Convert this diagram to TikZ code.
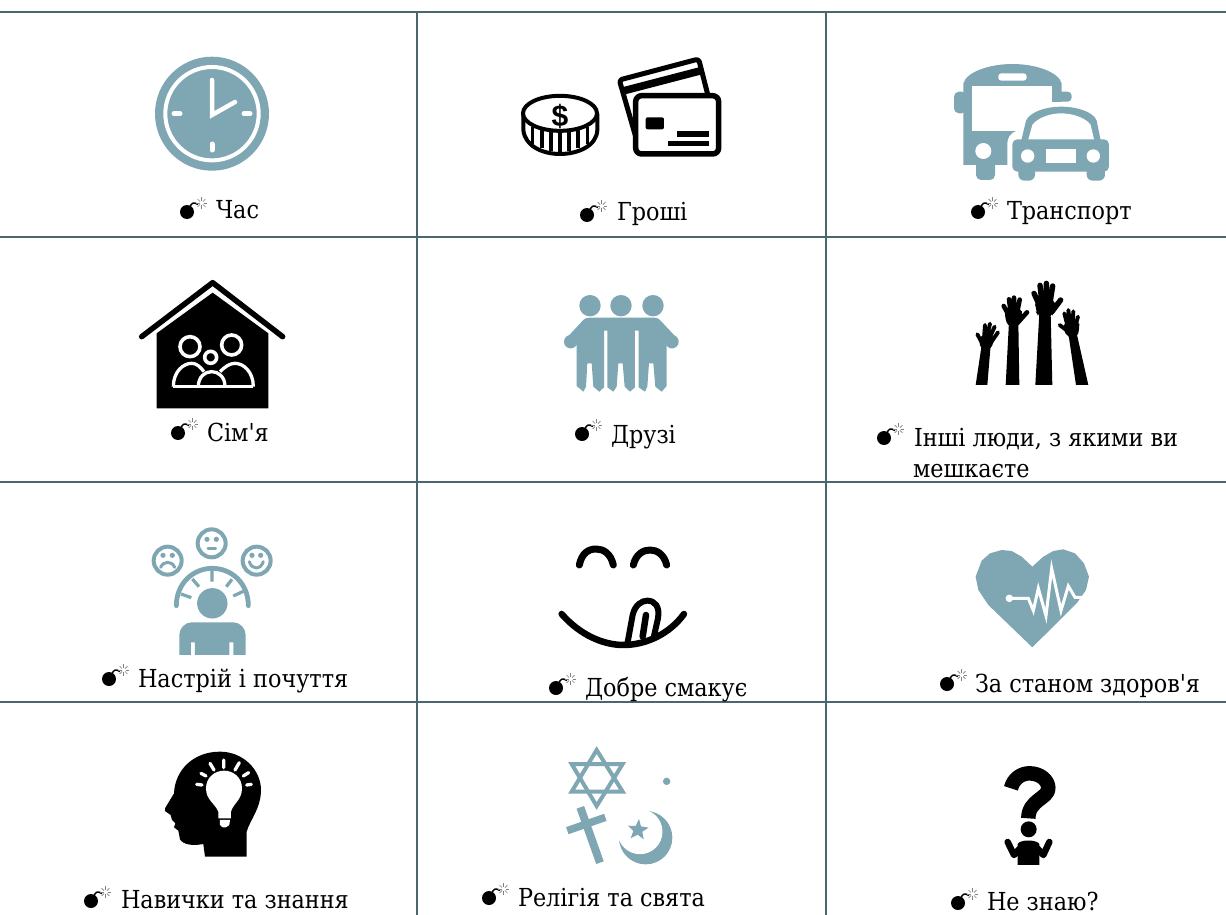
\documentclass[tikz,border=0pt]{standalone}
\usepackage{fontspec}
\setmainfont{DejaVu Serif Condensed}
\newfontfamily\labfont{DejaVu Serif Condensed}
\newfontfamily\dollarfont{Liberation Sans}[BoldFont={Liberation Sans Bold}]
\definecolor{teal}{HTML}{7FA6B3}
\definecolor{gridc}{HTML}{4A666E}
\tikzset{
  zc/.style n args={2}{shift={(#1,#2)},x=0.3333pt,y=-0.3333pt},
  lab/.style={anchor=base west,inner sep=0pt,outer sep=0pt,font=\labfont\fontsize{24.8}{26}\selectfont},
  gridline/.style={draw=gridc,line width=2pt},
}
\newcommand{\bomb}[2]{%
  \begin{scope}[shift={(#1,#2)}]
    \fill[black] (0,0) circle (7pt);
    \draw[black,line width=1.5pt] (3,-5) .. controls (4,-8) and (6,-11) .. (11,-7.5);
    \foreach \a in {0,45,...,315}{\draw[black!50,line width=.7pt] (14.5,-9)++(\a:2pt) -- ++(\a:3.6pt);}
  \end{scope}}
\begin{document}
\begin{tikzpicture}[x=1pt,y=-1pt,line join=round]
\useasboundingbox (0,0) rectangle (1226,915);
\fill[white] (0,0) rectangle (1226,915);
% grid
\draw[gridline] (0,12) -- (1226,12);
\draw[gridline] (0,237) -- (1226,237);
\draw[gridline] (0,482) -- (1226,482);
\draw[gridline] (0,702) -- (1226,702);
\draw[gridline] (417,12) -- (417,915);
\draw[gridline] (826,12) -- (826,915);
% clock
\fill[teal] (212,113.7) circle (57pt);
\draw[white,line width=4pt] (212,113.7) circle (46.7pt);
\draw[white,line width=4.5pt,line cap=round,line join=miter] (212,80) -- (212,115) -- (235,102);
\draw[white,line width=5pt,line cap=round] (174,113.7) -- (180,113.7);
\draw[white,line width=5pt,line cap=round] (244,113.7) -- (250,113.7);
\draw[white,line width=5pt,line cap=round] (212,144) -- (212,150);
% coin
\begin{scope}[zc={500}{40}]
\filldraw[fill=white,draw=black,line width=4pt] (70,222) -- (70,270) .. controls (75,320) and (130,342) .. (180,342) .. controls (230,342) and (290,320) .. (292,270) -- (292,222) -- cycle;
\foreach \xa/\ya/\yb in {98/262/312,126/270/325,153/274/332,180/276/336,207/274/332,234/270/325,262/262/312}{\draw[black,line width=3.6pt] (\xa,\ya) -- (\xa,\yb);}
\filldraw[fill=white,draw=black,line width=4pt] (180,220) ellipse (37pt and 17.5pt);
\node[inner sep=0pt,font=\dollarfont\bfseries\fontsize{30}{31}\selectfont] (dollar) at (180,228) {\$};
% cards
\filldraw[fill=white,draw=black,line width=5pt,rounded corners=3pt] (358,120) -- (596,57) -- (630,190) -- (410,300) -- cycle;
\fill[black] (366,142) -- (604,80) -- (610,102) -- (372,164) -- cycle;
\filldraw[fill=white,draw=black,line width=5.5pt,rounded corners=6pt] (407,167) rectangle (656,342);
\fill[black,rounded corners=2pt] (437,232) rectangle (492,268);
\fill[black] (530,272) rectangle (628,290);
\fill[black] (503,302) rectangle (628,317);
\end{scope}
% bus + car
\begin{scope}[zc={930}{50}]
\fill[teal,rounded corners=5pt] (72,125) rectangle (110,190);
\fill[teal,rounded corners=4pt] (380,125) rectangle (425,155);
\fill[teal] (100,345) -- (100,100) .. controls (110,65) and (180,42) .. (247,42) .. controls (315,42) and (385,65) .. (395,100) -- (395,200) -- (395,345) -- cycle;
\fill[teal,rounded corners=5pt] (138,330) rectangle (195,390);
\fill[white] (127,107) rectangle (365,242);
\fill[white] (365,155) rectangle (430,260);
\fill[white,rounded corners=3pt] (205,70) rectangle (290,92);
\fill[white] (160,303) circle (8pt);
% halo
\fill[white] (262,242) .. controls (240,250) and (232,262) .. (232,285) -- (232,400) -- (560,400) -- (560,160) -- (270,160) -- cycle;
% car
\fill[teal,rounded corners=6pt] (265,340) rectangle (315,392);
\fill[teal,rounded corners=6pt] (470,340) rectangle (525,392);
\fill[teal,rounded corners=5pt] (247,365) rectangle (537,268);
\fill[teal] (272,280) -- (288,212) .. controls (300,185) and (350,170) .. (392,170) .. controls (440,170) and (490,185) .. (500,212) -- (514,280) -- cycle;
\fill[white] (295,268) -- (307,225) .. controls (320,205) and (360,190) .. (392,190) .. controls (430,190) and (470,205) .. (482,225) -- (492,268) -- cycle;
\fill[white] (293,318) circle (6.7pt);
\fill[white] (490,318) circle (6.7pt);
\fill[white] (347,297) rectangle (437,340);
\end{scope}
% house
\begin{scope}[zc={130}{270}]
\draw[black,line width=5.5pt,line cap=round,line join=round] (35,200) -- (248,38) -- (458,200);
\fill[black] (80,190) -- (248,68) -- (415,190) -- (415,415) -- (80,415) -- cycle;
\draw[white,line width=3.6pt] (180,230) circle (10pt);
\draw[white,line width=3.6pt] (305,225) circle (10pt);
\draw[white,line width=3.6pt] (242,262) circle (6pt);
\draw[white,line width=3.3pt] (130,350) -- (370,350);
\draw[white,line width=3.3pt] (130,350) .. controls (130,305) and (160,280) .. (185,280) .. controls (200,280) and (210,290) .. (222,305);
\draw[white,line width=3.3pt] (370,350) .. controls (370,305) and (340,280) .. (315,280) .. controls (300,280) and (285,290) .. (270,305);
\draw[white,line width=3.3pt] (205,350) .. controls (205,320) and (225,305) .. (245,305) .. controls (265,305) and (285,320) .. (285,350);
\end{scope}
% friends
\begin{scope}[zc={550}{280}]
\fill[teal] (120,77) circle (10.7pt);
\fill[teal] (213,77) circle (10.7pt);
\fill[teal] (309,77) circle (10.7pt);
\fill[teal] (62,185) circle (6.7pt);
\fill[teal] (366,185) circle (6.7pt);
\fill[teal] (80,195) -- (80,318) -- (100,335) -- (108,320) -- (112,250) -- (125,250) -- (130,320) -- (148,335) -- (162,322) -- (162,152) -- (172,152) -- (172,322) -- (190,335) -- (200,320) -- (205,250) -- (218,250) -- (224,320) -- (240,335) -- (255,322) -- (255,152) -- (266,152) -- (266,322) -- (285,335) -- (292,320) -- (297,250) -- (310,250) -- (316,320) -- (335,335) -- (350,318) -- (350,195) -- (366,205) -- (384,178) -- (330,120) .. controls (325,115) and (320,113) .. (312,113) -- (120,113) .. controls (110,113) and (105,115) .. (100,120) -- (46,178) -- (62,205) -- cycle;
\end{scope}
% hands
\begin{scope}[zc={960}{270},line cap=round]
\fill[black] (226,345) -- (277,345) -- (272,130) -- (238,130) -- cycle;
\fill[black,rounded corners=8pt] (228,85) -- (286,85) -- (288,118) -- (272,145) -- (238,145) -- (224,118) -- cycle;
\draw[black,line width=5.4pt] (238,105) -- (222,70) (246,100) -- (240,46) (259,100) -- (259,40) (270,100) -- (278,48) (276,125) -- (302,90);
\fill[black] (137,345) -- (178,345) -- (175,155) -- (147,155) -- cycle;
\fill[black,rounded corners=6pt] (137,112) -- (183,112) -- (188,140) -- (175,174) -- (147,174) -- (133,140) -- cycle;
\draw[black,line width=4.6pt] (146,135) -- (131,108) (152,125) -- (147,88) (162,125) -- (162,83) (172,125) -- (179,89) (176,155) -- (201,127);
\fill[black] (47,345) -- (82,345) -- (92,225) -- (65,225) -- cycle;
\fill[black,rounded corners=5pt] (60,195) -- (100,195) -- (102,215) -- (90,242) -- (66,242) -- (56,215) -- cycle;
\draw[black,line width=3.9pt] (64,215) -- (52,193) (72,205) -- (75,165) (80,205) -- (90,161) (88,205) -- (104,170) (88,225) -- (114,187);
\fill[black] (348,345) -- (385,345) -- (350,190) -- (325,190) -- cycle;
\fill[black,rounded corners=5pt] (315,150) -- (358,150) -- (358,175) -- (352,204) -- (325,204) -- (310,180) -- cycle;
\draw[black,line width=3.9pt] (325,185) -- (299,165) (322,165) -- (313,130) (330,160) -- (325,120) (338,160) -- (340,124) (347,165) -- (354,140);
\end{scope}
% mood
\begin{scope}[zc={130}{520},line cap=round]
\draw[teal,line width=4pt] (113,122) circle (14pt);
\draw[teal,line width=4pt] (245,70) circle (14pt);
\draw[teal,line width=4pt] (380,122) circle (14pt);
\fill[teal] (99,106) circle (2.6pt) (127,106) circle (2.6pt) (231,58) circle (2.6pt) (259,58) circle (2.6pt) (366,106) circle (2.6pt) (392,106) circle (2.6pt);
\draw[teal,line width=3pt] (92,142) .. controls (100,122) and (126,122) .. (134,142);
\draw[teal,line width=3pt] (234,86) -- (257,86);
\draw[teal,line width=3pt] (358,125) .. controls (365,150) and (392,150) .. (400,125);
\draw[teal,line width=4.8pt] (139,257) .. controls (139,190) and (190,145) .. (247,145) .. controls (305,145) and (355,190) .. (355,257);
\draw[teal,line width=3.2pt,line cap=butt] (153,222) -- (184,233) (187,177) -- (207,200) (246,150) -- (246,185) (306,178) -- (289,200) (340,214) -- (310,228);
\fill[teal] (247,250) circle (15.2pt);
\fill[teal] (148,405) -- (148,345) .. controls (148,325) and (165,307) .. (185,307) -- (310,307) .. controls (330,307) and (347,325) .. (347,345) -- (347,405) -- (310,405) -- (310,367) -- (298,367) -- (298,405) -- (195,405) -- (195,367) -- (183,367) -- (183,405) -- cycle;
\end{scope}
% tongue face
\begin{scope}[zc={540}{530},line cap=round]
\draw[black,line width=7pt] (118,105) .. controls (125,70) and (145,57) .. (168,57) .. controls (190,57) and (212,70) .. (220,105);
\draw[black,line width=7pt] (280,105) .. controls (288,72) and (310,60) .. (330,60) .. controls (350,60) and (372,72) .. (380,105);
\draw[black,line width=6.5pt] (65,252) .. controls (120,315) and (190,345) .. (250,345) .. controls (320,345) and (390,310) .. (432,252);
\draw[black,line width=6pt] (262,342) -- (278,255) .. controls (285,225) and (305,212) .. (322,212) .. controls (345,212) and (360,230) .. (354,265) -- (342,318);
\draw[black,line width=6.5pt] (308,320) -- (318,255);
\end{scope}
% heart
\begin{scope}[zc={960}{540}]
\fill[teal] (217,322) -- (85,195) -- (55,150) -- (47,110) -- (65,62) -- (90,40) -- (125,30) -- (155,33) -- (185,50) -- (217,80) -- (250,50) -- (280,33) -- (310,28) -- (345,40) -- (372,70) -- (387,110) -- (378,150) -- (350,190) -- cycle;
\draw[white,line width=3pt,line join=miter] (148,175) -- (205,175) -- (220,212) -- (235,145) -- (258,228) -- (275,85) -- (303,212) -- (325,138) -- (345,172) -- (375,172);
\fill[white] (148,175) circle (3.8pt);
\end{scope}
% head
\begin{scope}[zc={150}{740}]
\fill[black] (165,350) -- (160,312) .. controls (130,318) and (100,315) .. (90,298) -- (85,272) -- (72,262) -- (76,250) -- (66,240) -- (62,225) -- (45,213) -- (45,205) -- (72,160) .. controls (75,90) and (130,35) .. (210,35) .. controls (280,35) and (333,90) .. (333,150) .. controls (333,205) and (300,240) .. (290,275) -- (290,350) -- cycle;
\fill[white] (205,215) .. controls (195,190) and (168,180) .. (168,145) .. controls (168,112) and (195,92) .. (222,92) .. controls (250,92) and (276,112) .. (276,145) .. controls (276,180) and (250,190) .. (243,215) -- (243,235) -- (205,235) -- cycle;
\fill[white] (210,240) -- (240,240) -- (238,255) -- (228,262) -- (218,262) -- (210,255) -- cycle;
\draw[white,line width=3.3pt,line cap=round] (221,60) -- (221,83) (180,70) -- (192,90) (268,68) -- (255,90) (153,100) -- (168,108) (296,98) -- (280,108) (140,133) -- (156,135) (304,133) -- (290,135);
\end{scope}
% religion
\begin{scope}[zc={470}{740}]
\draw[teal,line width=4pt,line join=miter] (380,30) -- (305,155) -- (458,155) -- cycle;
\draw[teal,line width=4pt,line join=miter] (380,198) -- (305,72) -- (458,72) -- cycle;
\fill[teal] (590,124) circle (3.7pt);
\draw[teal,line width=8pt] (331,202) -- (390,368);
\draw[teal,line width=7.5pt] (292,272) -- (406,232);
\fill[teal] (527,293) circle (26.7pt);
\fill[white] (510,275) circle (22.5pt);
\fill[teal] (507,237) -- (513,259) -- (536,263) -- (517,275) -- (521,298) -- (503,284) -- (482,295) -- (490,273) -- (474,257) -- (497,258) -- cycle;
\end{scope}
% question
\begin{scope}[zc={940}{750}]
\draw[black,line width=14.5pt] (213,115) .. controls (220,85) and (245,70) .. (268,70) .. controls (300,70) and (325,90) .. (325,115) .. controls (325,145) and (265,150) .. (265,205);
\fill[black] (266,238) circle (8pt);
\fill[black] (233,345) -- (233,282) .. controls (240,268) and (290,268) .. (298,282) -- (298,345) -- cycle;
\draw[black,line width=6.5pt,line cap=round,line join=round] (203,276) -- (222,315) -- (240,295);
\draw[black,line width=6.5pt,line cap=round,line join=round] (328,276) -- (310,315) -- (292,295);
\end{scope}
% labels
\bomb{187}{212}\node[lab] (t1) at (216,218) {Час};
\bomb{587}{215}\node[lab] (t2) at (617,220) {Гроші};
\bomb{978}{212}\node[lab] (t3) at (1007,219) {Транспорт};
\bomb{178}{433}\node[lab] (t4) at (207,441) {Сім'я};
\bomb{582}{434}\node[lab] (t5) at (611,443) {Друзі};
\bomb{884}{438}\node[lab] (t6a) at (914,446) {Інші люди, з якими ви};
\node[lab] (t6b) at (913,477) {мешкаєте};
\bomb{109}{679}\node[lab] (t7) at (138,687) {Настрій і почуття};
\bomb{556}{688}\node[lab] (t8) at (585,696) {Добре смакує};
\bomb{947}{684}\node[lab] (t9) at (975,692) {За станом здоров'я};
\bomb{91}{901}\node[lab] (t10) at (121,908) {Навички та знання};
\bomb{489}{898}\node[lab] (t11) at (518,906) {Релігія та свята};
\bomb{958}{903}\node[lab] (t12) at (987,910) {Не знаю?};
\end{tikzpicture}
\end{document}
